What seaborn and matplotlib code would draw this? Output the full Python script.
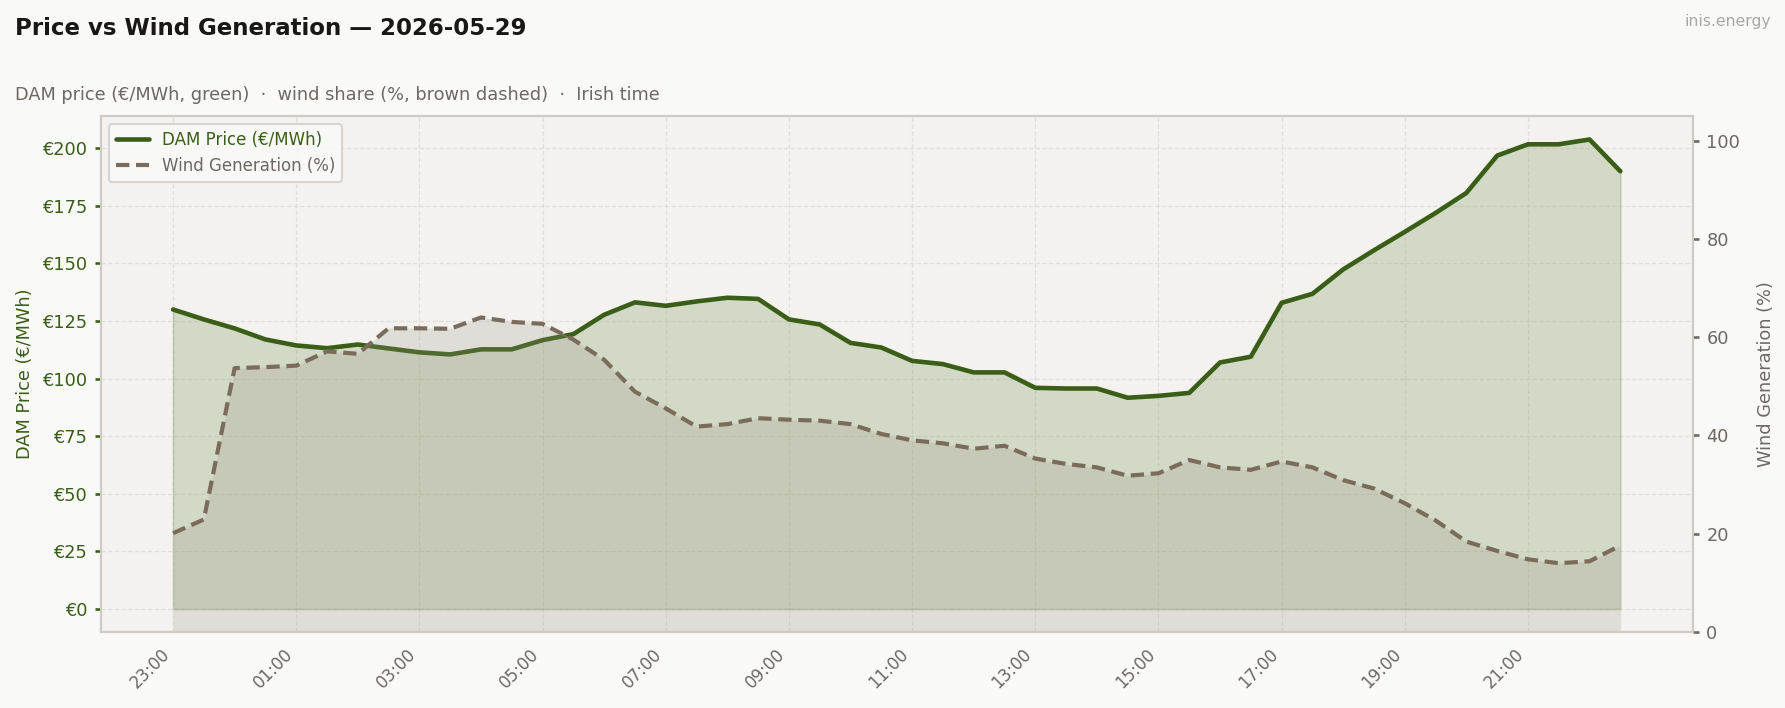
import pandas as pd
import matplotlib.pyplot as plt
import seaborn as sns

# half-hourly slots, Irish time (23:00 previous day -> 22:30)
times = ["23:00", "23:30", "00:00", "00:30", "01:00", "01:30", "02:00", "02:30",
         "03:00", "03:30", "04:00", "04:30", "05:00", "05:30", "06:00", "06:30",
         "07:00", "07:30", "08:00", "08:30", "09:00", "09:30", "10:00", "10:30",
         "11:00", "11:30", "12:00", "12:30", "13:00", "13:30", "14:00", "14:30",
         "15:00", "15:30", "16:00", "16:30", "17:00", "17:30", "18:00", "18:30",
         "19:00", "19:30", "20:00", "20:30", "21:00", "21:30", "22:00", "22:30"]

price = [130.0, 125.7, 121.8, 117.0, 114.4, 113.2, 114.8, 113.1,
         111.4, 110.5, 112.7, 112.7, 116.7, 119.3, 127.7, 133.1,
         131.6, 133.5, 135.1, 134.6, 125.7, 123.5, 115.5, 113.5,
         107.7, 106.3, 102.7, 102.7, 96.0, 95.7, 95.7, 91.7,
         92.5, 93.8, 107.0, 109.5, 132.9, 136.8, 147.4, 155.7,
         163.7, 171.9, 180.6, 196.8, 201.7, 201.7, 203.8, 190.0]

wind = [20.1, 22.9, 53.7, 53.9, 54.2, 57.1, 56.6, 61.8,
        61.8, 61.7, 64.0, 63.1, 62.7, 59.5, 55.4, 48.9,
        45.5, 41.8, 42.3, 43.5, 43.2, 43.0, 42.3, 40.3,
        39.0, 38.4, 37.3, 37.9, 35.3, 34.2, 33.5, 31.8,
        32.3, 35.0, 33.5, 33.0, 34.7, 33.5, 30.9, 29.2,
        26.2, 22.7, 18.4, 16.5, 14.8, 14.0, 14.4, 17.6]

df = pd.DataFrame({"slot": range(len(times)), "time": times,
                   "price": price, "wind": wind})

GREEN = "#3a5e18"
BROWN = "#7a6b5d"
GREY = "#6e6862"

sns.set_theme(style="white")
plt.rcParams["font.family"] = ["DejaVu Sans"]

fig = plt.figure(figsize=(11.9, 4.72), dpi=150, facecolor="#f9f9f7")
ax = fig.add_axes([0.0564, 0.1073, 0.8919, 0.7289])
ax.set_facecolor("#f3f2ef")
ax2 = ax.twinx()

# price on the left axis
ax.fill_between(df["slot"], 0, df["price"], facecolor="#7e9a5e", alpha=0.28,
                edgecolor="#6f8a55", lw=0.8, zorder=1)
sns.lineplot(data=df, x="slot", y="price", ax=ax, color=GREEN, lw=2.2,
             label="DAM Price (€/MWh)", legend=False, zorder=3)

# wind share on the right axis
ax2.fill_between(df["slot"], 0, df["wind"], facecolor="#9c9484", alpha=0.22,
                 edgecolor="#d8d6cf", lw=0.8, zorder=1)
sns.lineplot(data=df, x="slot", y="wind", ax=ax2, color=BROWN, lw=2.0,
             linestyle=(0, (3.2, 1.6)), label="Wind Generation (%)", legend=False, zorder=3)

ax.set_ylim(-10, 214)
ax2.set_ylim(0, 105)
ax.set_xlim(-2.35, 49.35)

ax.set_yticks(range(0, 201, 25))
ax.set_yticklabels([f"€{v}" for v in range(0, 201, 25)], color=GREEN, fontsize=8.5)
ax2.set_yticks(range(0, 101, 20))
ax2.set_yticklabels([str(v) for v in range(0, 101, 20)], color=GREY, fontsize=8.5)

ax.set_xticks(df["slot"][::4])
ax.set_xticklabels(df["time"][::4], rotation=45, ha="right", color=GREY, fontsize=8)

ax.set_xlabel("")
ax.set_ylabel("DAM Price (€/MWh)", color=GREEN, fontsize=8.5)
ax2.set_ylabel("Wind Generation (%)", color=GREY, fontsize=8.5, labelpad=8)

ax.grid(True, color="#dedbd5", linestyle="--", linewidth=0.6, alpha=0.8)
ax.set_axisbelow(True)
ax.tick_params(axis="y", colors=GREEN, length=3, labelcolor=GREEN)
ax.tick_params(axis="x", colors=GREY, length=3, labelcolor=GREY)
ax2.tick_params(axis="y", colors=GREY, length=3, labelcolor=GREY)
for a in (ax, ax2):
    for s in a.spines.values():
        s.set_color("#cfcac3")
        s.set_linewidth(1.0)

# legend combining both axes
h1, l1 = ax.get_legend_handles_labels()
h2, l2 = ax2.get_legend_handles_labels()
leg = ax2.legend(h1 + h2, l1 + l2, loc="upper left", fontsize=8, frameon=True,
                 facecolor="#f9f9f7", edgecolor="#d5d1cb", framealpha=0.9)
leg.get_texts()[0].set_color(GREEN)
leg.get_texts()[1].set_color(GREY)

fig.text(0.0084, 0.96, "Price vs Wind Generation — 2026-05-29", fontsize=11,
         fontweight="bold", color="#1a1816", va="center", ha="left")
fig.text(0.0084, 0.866, "DAM price (€/MWh, green)  ·  wind share (%, brown dashed)  ·  Irish time",
         fontsize=8.5, color=GREY, va="center", ha="left")
fig.text(0.992, 0.969, "inis.energy", fontsize=7.5, color="#aaa8a4", va="center", ha="right")

plt.savefig("out.png", dpi=150, facecolor=fig.get_facecolor())
